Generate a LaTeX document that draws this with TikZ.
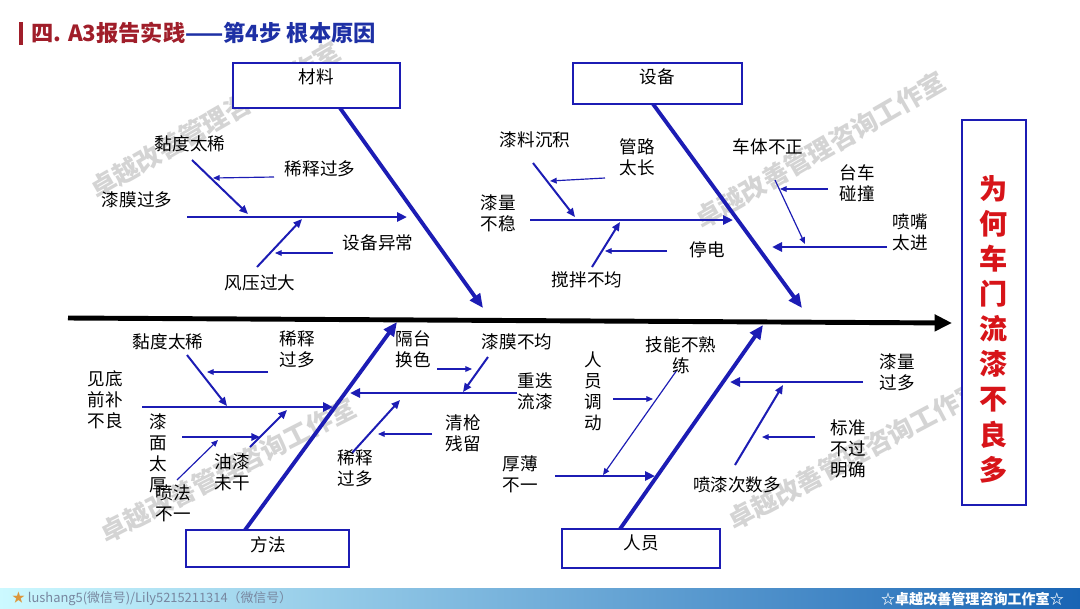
\documentclass[tikz,border=0pt]{standalone}
\usepackage{fontspec}
\setmainfont{Noto Sans CJK SC}
\usetikzlibrary{arrows.meta}

\definecolor{bonec}{RGB}{28,28,180}
\definecolor{ttred}{RGB}{160,30,42}
\definecolor{ttblue}{RGB}{30,48,165}
\definecolor{effred}{RGB}{215,20,25}
\definecolor{footg}{RGB}{120,135,160}
\definecolor{starc}{RGB}{220,150,60}

\begin{document}
\begin{tikzpicture}
	[x=0.03cm,y=-0.03cm,
	 lbl/.style={font=\fontsize{15}{18}\selectfont,align=center,inner sep=0pt},
	 catbox/.style={draw=bonec,line width=1.6pt,fill=white,inner sep=0pt},
	 spine/.style={line width=4.2pt,-{Triangle[length=0.52cm,width=0.48cm]}},
	 bone/.style={bonec,line width=3.3pt,-{Triangle[length=0.42cm,width=0.36cm]}},
	 subbone/.style={bonec,line width=2.5pt,-{Triangle[length=0.3cm,width=0.27cm]}},
	 twig/.style={bonec,line width=1.7pt,-{Triangle[length=0.26cm,width=0.22cm]}},
	 thinarr/.style={bonec,line width=1pt,-{Triangle[length=0.2cm,width=0.17cm]}},
	 wmark/.style={font=\fontsize{22}{24}\selectfont\bfseries,text=gray!45,opacity=0.75,inner sep=0pt}]
	\useasboundingbox (0,0) rectangle (1080,608);
	\fill[white] (0,0) rectangle (1080,608);
	% footer bar
	\shade[left color=blue!12!cyan!20, middle color=blue!20!cyan!35!white, right color={rgb,255:red,25;green,100;blue,180}]
		(0,588) rectangle (1080,608);
	\node [anchor=west, font=\fontsize{11}{13}\selectfont, text=footg] (ftl) at (8,599) {{\color{starc}★} lushang5(微信号)/Lily5215211314（微信号）};
	\node [anchor=east, font=\fontsize{12}{14}\selectfont\bfseries, text=white] (ftr) at (1068,599) {☆卓越改善管理咨询工作室☆};
	% watermarks
	\node [wmark, rotate=30] (wm1) at (215,120) {卓越改善管理咨询工作室};
	\node [wmark, rotate=30] (wm2) at (820,150) {卓越改善管理咨询工作室};
	\node [wmark, rotate=27] (wm3) at (228,470) {卓越改善管理咨询工作室};
	\node [wmark, rotate=28] (wm4) at (855,455) {卓越改善管理咨询工作室};
	% title
	\coordinate (rb0) at (21,22);
	\coordinate (rb1) at (21,45);
	\draw [ttred, line width=3.5pt] (rb0) -- (rb1);
	\node [anchor=west, inner sep=0pt, font=\fontsize{19}{22}\selectfont\bfseries] (ttl) at (31,33)
		{\textcolor{ttred}{四. A3报告实践}\textcolor{ttblue}{——第4步 根本原因}};
	% spine
	\coordinate (sp0) at (68,318);
	\coordinate (sp1) at (952,323);
	\draw [spine] (sp0) -- (sp1);
	% main bones
	\coordinate (b1s) at (340,108);
	\coordinate (b1e) at (483,308);
	\coordinate (b2s) at (653,104);
	\coordinate (b2e) at (802,308);
	\coordinate (b3s) at (245,530);
	\coordinate (b3e) at (397,322);
	\coordinate (b4s) at (620,529);
	\coordinate (b4e) at (763,325);
	\draw [bone] (b1s) -- (b1e);
	\draw [bone] (b2s) -- (b2e);
	\draw [bone] (b3s) -- (b3e);
	\draw [bone] (b4s) -- (b4e);
	% category boxes
	\node [catbox, minimum width=5.01cm, minimum height=1.35cm] (mat) at (316.5,85.5) {};
	\node [catbox, minimum width=5.07cm, minimum height=1.23cm] (equ) at (657.5,83.5) {};
	\node [catbox, minimum width=4.89cm, minimum height=1.11cm] (met) at (267.5,548.5) {};
	\node [catbox, minimum width=4.74cm, minimum height=1.17cm] (man) at (641,548.5) {};
	\node [lbl] (matT) at (316,77) {材料};
	\node [lbl] (equT) at (657,77) {设备};
	\node [lbl] (metT) at (268,545) {方法};
	\node [lbl] (manT) at (641,543) {人员};
	% effect
	\node [catbox, minimum width=1.92cm, minimum height=11.55cm] (eff) at (994,312.5) {};
	\node [inner sep=0pt, align=center, text=effred, font=\fontsize{24}{30}\selectfont\bfseries] (effT) at (994,329)
		{为\\何\\车\\门\\流\\漆\\不\\良\\多};
	% material
	\coordinate (m1s) at (187,217);
	\coordinate (m1e) at (407,217);
	\coordinate (m2s) at (192,160);
	\coordinate (m2e) at (248,214);
	\coordinate (m3s) at (274,177);
	\coordinate (m3e) at (213,178);
	\coordinate (m4s) at (257,267);
	\coordinate (m4e) at (302,219);
	\coordinate (m5s) at (333,253);
	\coordinate (m5e) at (275,253);
	\draw [subbone] (m1s) -- (m1e);
	\draw [twig] (m2s) -- (m2e);
	\draw [thinarr] (m3s) -- (m3e);
	\draw [twig] (m4s) -- (m4e);
	\draw [thinarr] (m5s) -- (m5e);
	\node [lbl] (mA) at (190,144) {黏度太稀};
	\node [lbl] (mB) at (320,169) {稀释过多};
	\node [lbl] (mC) at (137,200) {漆膜过多};
	\node [lbl] (mD) at (378,243) {设备异常};
	\node [lbl] (mE) at (260,283) {风压过大};
	% equipment
	\coordinate (e1s) at (530,220);
	\coordinate (e1e) at (733,220);
	\coordinate (e2s) at (533,163);
	\coordinate (e2e) at (575,217);
	\coordinate (e3s) at (605,178);
	\coordinate (e3e) at (550,181);
	\coordinate (e4s) at (592,267);
	\coordinate (e4e) at (620,222);
	\coordinate (e5s) at (667,251);
	\coordinate (e5e) at (605,251);
	\coordinate (e6s) at (887,247);
	\coordinate (e6e) at (772,247);
	\coordinate (e7s) at (775,180);
	\coordinate (e7e) at (805,244);
	\coordinate (e8s) at (828,189);
	\coordinate (e8e) at (780,189);
	\draw [subbone] (e1s) -- (e1e);
	\draw [twig] (e2s) -- (e2e);
	\draw [thinarr] (e3s) -- (e3e);
	\draw [twig] (e4s) -- (e4e);
	\draw [thinarr] (e5s) -- (e5e);
	\draw [subbone] (e6s) -- (e6e);
	\draw [thinarr] (e7s) -- (e7e);
	\draw [thinarr] (e8s) -- (e8e);
	\node [lbl] (eA) at (535,140) {漆料沉积};
	\node [lbl] (eB) at (637,157) {管路\\太长};
	\node [lbl] (eC) at (498,213) {漆量\\不稳};
	\node [lbl] (eD) at (587,280) {搅拌不均};
	\node [lbl] (eE) at (707,250) {停电};
	\node [lbl] (eF) at (768,147) {车体不正};
	\node [lbl] (eG) at (857,183) {台车\\碰撞};
	\node [lbl] (eH) at (910,232) {喷嘴\\太进};
	% method
	\coordinate (t1s) at (142,407);
	\coordinate (t1e) at (333,407);
	\coordinate (t2s) at (187,355);
	\coordinate (t2e) at (227,406);
	\coordinate (t3s) at (268,372);
	\coordinate (t3e) at (207,372);
	\coordinate (t4s) at (182,437);
	\coordinate (t4e) at (260,437);
	\coordinate (t5s) at (177,480);
	\coordinate (t5e) at (218,440);
	\coordinate (t6s) at (250,447);
	\coordinate (t6e) at (287,410);
	\coordinate (t7s) at (517,393);
	\coordinate (t7e) at (350,393);
	\coordinate (t8s) at (488,357);
	\coordinate (t8e) at (463,392);
	\coordinate (t9s) at (437,369);
	\coordinate (t9e) at (472,369);
	\coordinate (t10s) at (352,453);
	\coordinate (t10e) at (400,400);
	\coordinate (t11s) at (432,434);
	\coordinate (t11e) at (378,434);
	\draw [subbone] (t1s) -- (t1e);
	\draw [twig] (t2s) -- (t2e);
	\draw [thinarr] (t3s) -- (t3e);
	\draw [twig] (t4s) -- (t4e);
	\draw [thinarr] (t5s) -- (t5e);
	\draw [twig] (t6s) -- (t6e);
	\draw [subbone] (t7s) -- (t7e);
	\draw [twig] (t8s) -- (t8e);
	\draw [thinarr] (t9s) -- (t9e);
	\draw [twig] (t10s) -- (t10e);
	\draw [thinarr] (t11s) -- (t11e);
	\node [lbl] (tA) at (168,342) {黏度太稀};
	\node [lbl] (tB) at (297,349) {稀释\\过多};
	\node [lbl] (tC) at (105,400) {见底\\前补\\不良};
	\node [lbl] (tD) at (158,453) {漆\\面\\太\\厚};
	\node [lbl] (tE) at (173,503) {喷法\\不一};
	\node [lbl] (tF) at (232,472) {油漆\\未干};
	\node [lbl] (tG) at (413,349) {隔台\\换色};
	\node [lbl] (tH) at (517,342) {漆膜不均};
	\node [lbl] (tI) at (535,391) {重迭\\流漆};
	\node [lbl] (tJ) at (463,433) {清枪\\残留};
	\node [lbl] (tK) at (355,468) {稀释\\过多};
	% manpower
	\coordinate (p1s) at (555,476);
	\coordinate (p1e) at (655,476);
	\coordinate (p2s) at (677,370);
	\coordinate (p2e) at (603,475);
	\coordinate (p3s) at (613,399);
	\coordinate (p3e) at (653,399);
	\coordinate (p4s) at (863,382);
	\coordinate (p4e) at (730,382);
	\coordinate (p5s) at (735,465);
	\coordinate (p5e) at (783,385);
	\coordinate (p6s) at (815,437);
	\coordinate (p6e) at (762,437);
	\draw [subbone] (p1s) -- (p1e);
	\draw [thinarr] (p2s) -- (p2e);
	\draw [thinarr] (p3s) -- (p3e);
	\draw [subbone] (p4s) -- (p4e);
	\draw [twig] (p5s) -- (p5e);
	\draw [thinarr] (p6s) -- (p6e);
	\node [lbl] (pA) at (681,355) {技能不熟\\练};
	\node [lbl] (pB) at (593,391) {人\\员\\调\\动};
	\node [lbl] (pC) at (520,474) {厚薄\\不一};
	\node [lbl] (pD) at (897,372) {漆量\\过多};
	\node [lbl] (pE) at (737,485) {喷漆次数多};
	\node [lbl] (pF) at (848,449) {标准\\不过\\明确};
\end{tikzpicture}
\end{document}
